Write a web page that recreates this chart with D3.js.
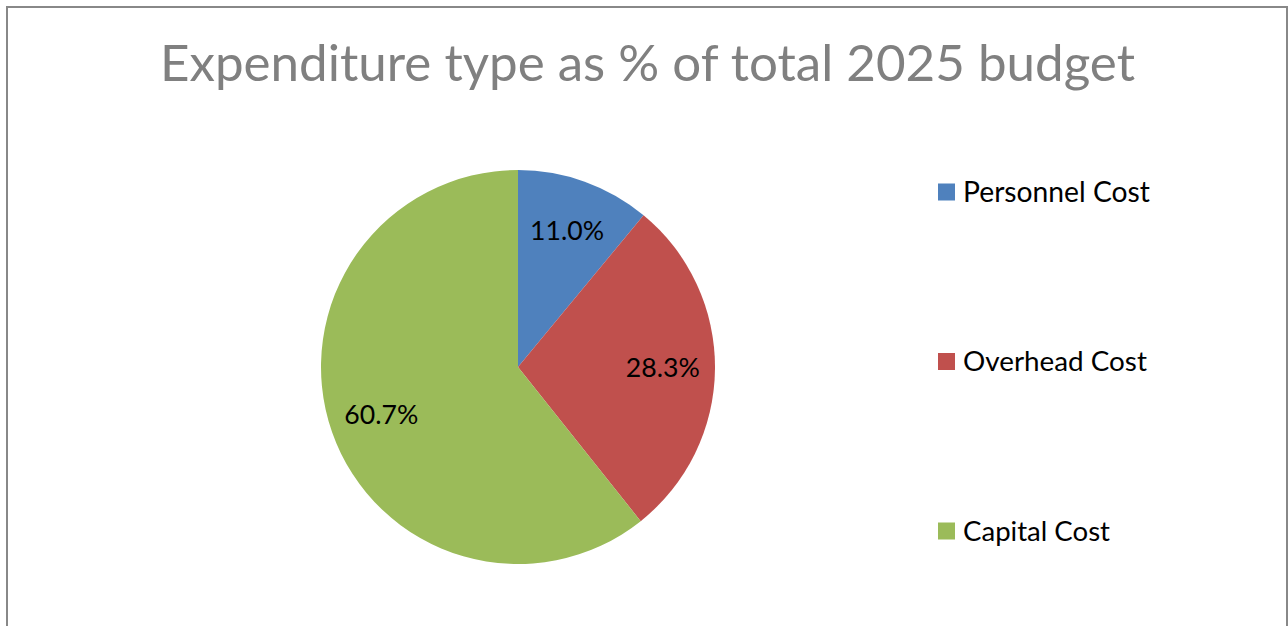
<!DOCTYPE html>
<html>
<head>
<meta charset="utf-8">
<script src="https://cdn.jsdelivr.net/npm/d3@7"></script>
<style>
  html, body { margin: 0; padding: 0; background: #fff; }
  svg { display: block; }
  text { font-family: Lato, "Open Sans", sans-serif; }
</style>
</head>
<body>
<svg id="chart" width="1288" height="626"></svg>
<script>
// Budget shares by expenditure type
const titleText = "Expenditure type as % of total 2025 budget";
const categories = ["Personnel Cost", "Overhead Cost", "Capital Cost"];
const shares = [11.0, 28.3, 60.7];
const colors = ["#4F81BD", "#C0504D", "#9BBB59"];

const svg = d3.select("#chart");

// Resize a text node so its rendered width equals the target width
function fitWidth(sel, target) {
  sel.each(function () {
    const fs = parseFloat(d3.select(this).attr("font-size"));
    const w = this.getComputedTextLength();
    d3.select(this).attr("font-size", (fs * target / w).toFixed(2));
  });
}

// Chart frame (open at the bottom edge of the page)
svg.append("rect")
  .attr("x", 7).attr("y", 7)
  .attr("width", 1280).attr("height", 640)
  .attr("fill", "#fff")
  .attr("stroke", "#888888")
  .attr("stroke-width", 2);

// Title
svg.append("text")
  .attr("x", 647.5).attr("y", 81)
  .attr("text-anchor", "middle")
  .attr("font-size", 44)
  .attr("fill", "#808080")
  .text(titleText)
  .call(fitWidth, 975);

// Pie
const cx = 518, cy = 367, R = 197;
const pie = d3.pie().sort(null).value(d => d);
const arcs = pie(shares);
const arc = d3.arc().innerRadius(0).outerRadius(R);
const labelArc = d3.arc().innerRadius(R * 0.735).outerRadius(R * 0.735);

const g = svg.append("g").attr("transform", `translate(${cx},${cy})`);
g.selectAll("path.slice")
  .data(arcs)
  .join("path")
  .attr("class", "slice")
  .attr("d", arc)
  .attr("fill", (d, i) => colors[i]);

const fmt = d3.format(".1f");
g.selectAll("text.lbl")
  .data(arcs)
  .join("text")
  .attr("class", "lbl")
  .attr("x", d => labelArc.centroid(d)[0])
  .attr("y", d => labelArc.centroid(d)[1])
  .attr("dy", "0.33em")
  .attr("text-anchor", "middle")
  .attr("font-size", 26)
  .attr("fill", "#000")
  .text(d => fmt(d.data) + "%")
  .call(fitWidth, 74);

// Legend
const legendY = d3.scalePoint().domain(categories).range([192, 531]);
const items = svg.append("g").selectAll("g.item")
  .data(categories)
  .join("g")
  .attr("class", "item")
  .attr("transform", d => `translate(938,${legendY(d)})`);
items.append("rect")
  .attr("x", 0).attr("y", -8.5)
  .attr("width", 17).attr("height", 17)
  .attr("fill", (d, i) => colors[i]);
const legendWidths = [187, 184, 147];
items.append("text")
  .attr("x", 25).attr("y", 0)
  .attr("dy", "0.35em")
  .attr("font-size", 26)
  .attr("fill", "#000")
  .text(d => d)
  .each(function (d, i) { d3.select(this).call(fitWidth, legendWidths[i]); });
</script>
</body>
</html>
